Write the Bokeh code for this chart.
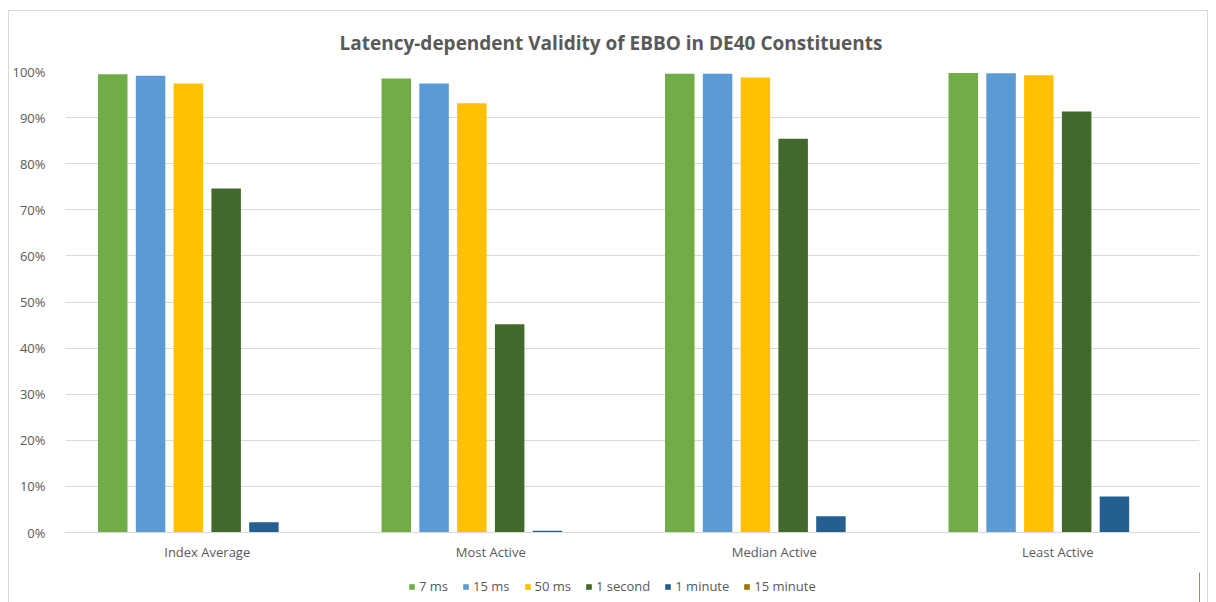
from bokeh.plotting import figure
from bokeh.layouts import column
from bokeh.models import FactorRange, ColumnDataSource, Legend, LegendItem, NumeralTickFormatter, SingleIntervalTicker
from bokeh.transform import dodge
from bokeh.embed import file_html
from bokeh.resources import INLINE

categories = ["Index Average", "Most Active", "Median Active", "Least Active"]
series_names = ["7 ms", "15 ms", "50 ms", "1 second", "1 minute", "15 minute"]
v_7ms = [0.994, 0.985, 0.995, 0.997]
v_15ms = [0.991, 0.974, 0.995, 0.996]
v_50ms = [0.974, 0.931, 0.987, 0.992]
v_1s = [0.746, 0.452, 0.854, 0.913]
v_1min = [0.022, 0.004, 0.035, 0.078]
v_15min = [0.0, 0.0, 0.0, 0.0]
colors = ["#70AD47", "#5B9BD5", "#FFC000", "#43682B", "#255E91", "#997300"]

series_values = [v_7ms, v_15ms, v_50ms, v_1s, v_1min, v_15min]
data = {"cat": categories}
for i, vals in enumerate(series_values):
    data["s%d" % i] = vals
source = ColumnDataSource(data)

FONT = "Open Sans"
GRAY = "#595959"

p = figure(x_range=FactorRange(*categories, range_padding=0), y_range=(0, 1),
           frame_width=1134, frame_height=461, output_backend="svg", toolbar_location=None,
           title="Latency-dependent Validity of EBBO in DE40 Constituents")
p.min_border_left = 56
p.min_border_right = 8
p.min_border_top = 60
p.min_border_bottom = 40
p.title.align = "left"
p.title.text_font = FONT
p.title.text_font_size = "19px"
p.title.text_font_style = "bold"
p.title.text_color = GRAY
p.title.offset = 274
p.title.standoff = 32

slot = 0.1333
width = 0.104
for i, name in enumerate(series_names):
    p.vbar(x=dodge("cat", (i - 2.5) * slot, range=p.x_range), top="s%d" % i,
           width=width, source=source, fill_color=colors[i], line_color=None)

p.outline_line_color = None
p.xgrid.grid_line_color = None
p.ygrid.grid_line_color = "#d9d9d9"
p.yaxis.ticker = SingleIntervalTicker(interval=0.1)
p.yaxis.formatter = NumeralTickFormatter(format="0%")
p.yaxis.axis_line_color = None
p.yaxis.major_tick_line_color = None
p.yaxis.minor_tick_line_color = None
p.xaxis.axis_line_color = "#d9d9d9"
p.xaxis.major_tick_line_color = None
p.xaxis.minor_tick_line_color = None
for ax in (p.xaxis, p.yaxis):
    ax.major_label_text_font = FONT
    ax.major_label_text_font_size = "13px"
    ax.major_label_text_color = GRAY
p.xaxis.major_label_standoff = 4
p.yaxis.major_label_standoff = 14

# legend strip below the chart (renderers sit outside the visible range)
lf = figure(width=1198, height=30, x_range=(0, 1), y_range=(0, 1),
            output_backend="svg", toolbar_location=None,
            x_axis_type=None, y_axis_type=None, min_border=0)
lf.outline_line_color = None
lf.xgrid.grid_line_color = None
lf.ygrid.grid_line_color = None
items = []
for i, name in enumerate(series_names):
    r = lf.vbar(x=[10], top=[1], width=0.1, fill_color=colors[i], line_color=None)
    items.append(LegendItem(label=name, renderers=[r]))
legend = Legend(items=items, orientation="horizontal", location=(343, 7))
legend.glyph_width = 7
legend.glyph_height = 7
legend.label_height = 16
legend.label_text_font = FONT
legend.label_text_font_size = "13px"
legend.label_text_color = GRAY
legend.label_standoff = 4
legend.spacing = 14
legend.border_line_color = None
legend.background_fill_alpha = 0
legend.padding = 0
legend.margin = 0
lf.add_layout(legend, "center")

layout = column(p, lf, spacing=0,
                styles={"border": "1px solid #d9d9d9", "margin-left": "8px", "margin-top": "10px"})

open("out.html", "w").write(file_html(layout, INLINE))
